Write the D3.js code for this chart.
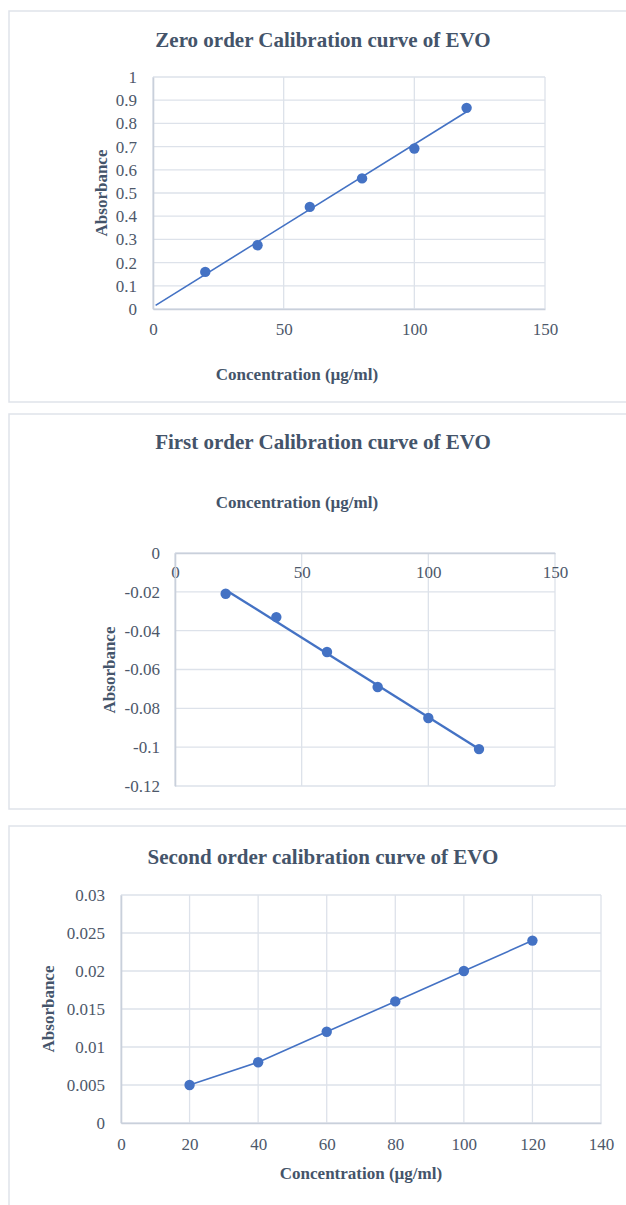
<!DOCTYPE html>
<html>
<head>
<meta charset="utf-8">
<script src="https://cdn.jsdelivr.net/npm/d3@7"></script>
<style>
  body { margin: 0; background: #ffffff; }
  svg { display: block; }
  text { font-family: "Liberation Serif", "Times New Roman", serif; }
</style>
</head>
<body>
<svg id="chart" width="626" height="1205"></svg>
<script>
// Calibration data for EVO
const concentration = [20, 40, 60, 80, 100, 120];
const zeroOrderAbs = [0.16, 0.275, 0.44, 0.563, 0.692, 0.867];
const firstOrderAbs = [-0.021, -0.033, -0.051, -0.069, -0.085, -0.101];
const secondOrderAbs = [0.005, 0.008, 0.012, 0.016, 0.020, 0.024];

const chartTitles = [
  "Zero order Calibration curve of EVO",
  "First order Calibration curve of EVO",
  "Second order calibration curve of EVO"
];
const xAxisTitle = "Concentration (\u00b5g/ml)";
const yAxisTitle = "Absorbance";

const xTicksZero = [0, 50, 100, 150];
const yTicksZero = [0, 0.1, 0.2, 0.3, 0.4, 0.5, 0.6, 0.7, 0.8, 0.9, 1];
const xTicksFirst = [0, 50, 100, 150];
const yTicksFirst = [0, -0.02, -0.04, -0.06, -0.08, -0.1, -0.12];
const xTicksSecond = [0, 20, 40, 60, 80, 100, 120, 140];
const yTicksSecond = [0, 0.005, 0.01, 0.015, 0.02, 0.025, 0.03];

const TEXT = "#44546a";
const TICK = "#4d586a";
const GRID = "#dde2ea";
const AXIS = "#c9d0db";
const BLUE = "#4472c4";

const svg = d3.select("#chart");

// least-squares fit used for the trendlines
function fit(xs, ys) {
  const mx = d3.mean(xs), my = d3.mean(ys);
  const sxy = d3.sum(xs, (x, i) => (x - mx) * (ys[i] - my));
  const sxx = d3.sum(xs, x => (x - mx) * (x - mx));
  const slope = sxy / sxx;
  return { slope, intercept: my - slope * mx };
}

function drawPanel(cfg) {
  // panel frame
  svg.append("rect")
    .attr("x", 9).attr("y", cfg.top)
    .attr("width", 640).attr("height", cfg.height)
    .attr("fill", "#fff").attr("stroke", "#dfe3ea").attr("stroke-width", 1.5);

  const g = svg.append("g");
  const x = d3.scaleLinear().domain(cfg.xDomain).range([cfg.left, cfg.right]);
  const y = d3.scaleLinear().domain(cfg.yDomain).range([cfg.bottom, cfg.plotTop]);

  // gridlines
  g.append("g").selectAll("line").data(cfg.yTicks).join("line")
    .attr("x1", cfg.left).attr("x2", cfg.right)
    .attr("y1", d => y(d)).attr("y2", d => y(d))
    .attr("stroke", GRID).attr("stroke-width", 1.3);
  g.append("g").selectAll("line").data(cfg.xTicks).join("line")
    .attr("x1", d => x(d)).attr("x2", d => x(d))
    .attr("y1", cfg.plotTop).attr("y2", cfg.bottom)
    .attr("stroke", GRID).attr("stroke-width", 1.3);

  // axes
  const xAxisY = y(cfg.xAxisAt);
  const xAxis = g.append("g")
    .attr("transform", `translate(0,${xAxisY})`)
    .call(d3.axisBottom(x).tickValues(cfg.xTicks).tickFormat(d => String(d))
      .tickSize(0).tickPadding(cfg.xTickPad));
  const yAxis = g.append("g")
    .attr("transform", `translate(${cfg.left},0)`)
    .call(d3.axisLeft(y).tickValues(cfg.yTicks).tickFormat(d => String(d))
      .tickSize(0).tickPadding(cfg.yTickPad));
  [xAxis, yAxis].forEach(a => {
    a.select(".domain").attr("stroke", AXIS).attr("stroke-width", 1.6);
    a.selectAll("text")
      .attr("fill", TICK)
      .style("font-size", "17px")
      .style("font-family", '"Liberation Serif", "Times New Roman", serif');
  });

  // series line(s)
  const pts = concentration.map((c, i) => [c, cfg.values[i]]);
  if (cfg.connect) {
    g.append("path").datum(pts)
      .attr("d", d3.line().x(d => x(d[0])).y(d => y(d[1])))
      .attr("fill", "none").attr("stroke", BLUE).attr("stroke-width", cfg.lineWidth);
  }
  if (cfg.trend) {
    const f = fit(concentration, cfg.values);
    const tx = cfg.trend;
    g.append("line")
      .attr("x1", x(tx[0])).attr("y1", y(f.intercept + f.slope * tx[0]))
      .attr("x2", x(tx[1])).attr("y2", y(f.intercept + f.slope * tx[1]))
      .attr("stroke", BLUE).attr("stroke-width", cfg.lineWidth);
  }

  // markers
  g.append("g").selectAll("circle").data(pts).join("circle")
    .attr("cx", d => x(d[0])).attr("cy", d => y(d[1]))
    .attr("r", 5.2).attr("fill", BLUE);

  // titles
  svg.append("text")
    .attr("x", cfg.titleX).attr("y", cfg.titleY)
    .attr("text-anchor", "middle")
    .attr("fill", TEXT).attr("font-weight", "bold").attr("font-size", "21px")
    .text(cfg.title);
  svg.append("text")
    .attr("x", cfg.xTitle[0]).attr("y", cfg.xTitle[1])
    .attr("text-anchor", "middle")
    .attr("fill", TEXT).attr("font-weight", "bold").attr("font-size", "17px")
    .text(xAxisTitle);
  svg.append("text")
    .attr("transform", `translate(${cfg.yTitle[0]},${cfg.yTitle[1]}) rotate(-90)`)
    .attr("text-anchor", "middle")
    .attr("fill", TEXT).attr("font-weight", "bold").attr("font-size", "17px")
    .text(yAxisTitle);
}

drawPanel({
  top: 11, height: 391, title: chartTitles[0], titleX: 323, titleY: 47,
  left: 153, right: 545, plotTop: 77, bottom: 309,
  xDomain: [0, 150], yDomain: [0, 1], xTicks: xTicksZero, yTicks: yTicksZero,
  xAxisAt: 0, xTickPad: 14, yTickPad: 16,
  values: zeroOrderAbs, connect: false, trend: [1, 120], lineWidth: 1.6,
  xTitle: [297, 380], yTitle: [107, 193]
});

drawPanel({
  top: 414, height: 395, title: chartTitles[1], titleX: 323, titleY: 449,
  left: 175, right: 555, plotTop: 553, bottom: 786,
  xDomain: [0, 150], yDomain: [-0.12, 0], xTicks: xTicksFirst, yTicks: yTicksFirst,
  xAxisAt: 0, xTickPad: 13, yTickPad: 15,
  values: firstOrderAbs, connect: false, trend: [20, 120], lineWidth: 2.4,
  xTitle: [297, 508], yTitle: [115, 670]
});

drawPanel({
  top: 826, height: 420, title: chartTitles[2], titleX: 323, titleY: 864,
  left: 121, right: 601, plotTop: 895, bottom: 1123,
  xDomain: [0, 140], yDomain: [0, 0.03], xTicks: xTicksSecond, yTicks: yTicksSecond,
  xAxisAt: 0, xTickPad: 15, yTickPad: 16,
  values: secondOrderAbs, connect: true, trend: null, lineWidth: 1.6,
  xTitle: [361, 1179], yTitle: [54, 1009]
});
</script>
</body>
</html>
